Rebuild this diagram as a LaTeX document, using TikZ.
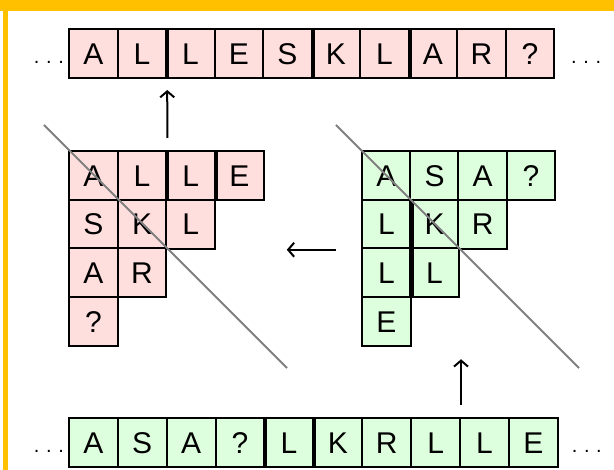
\documentclass[tikz,border=0pt]{standalone}
\usepackage{fontspec}
\setmainfont{Liberation Sans}
\usetikzlibrary{arrows.meta,calc}
\definecolor{pinkc}{HTML}{FFDEDE}
\definecolor{greenc}{HTML}{DEFFDE}
\definecolor{yel}{HTML}{FFC000}
\begin{document}
\begin{tikzpicture}[x=1pt,y=-1pt,
  cell/.style={draw=black, line width=2pt, minimum width=48.7pt, minimum height=49pt,
    inner sep=0pt, text height=21.5pt, text depth=0pt, font=\fontsize{30}{30}\selectfont},
  pcell/.style={cell, fill=pinkc},
  gcell/.style={cell, fill=greenc},
  thick edge/.style={line width=4pt, line cap=butt},
  dots/.style={inner sep=0pt, font=\fontsize{20}{20}\selectfont},
  arr/.style={line width=2pt, -{Straight Barb[length=6pt,width=14pt,line width=2pt]}},
  diag/.style={line width=2pt, draw=gray}]
\useasboundingbox (0,0) rectangle (614,470);
\fill[white] (0,0) rectangle (614,470);
\fill[yel] (0,0) rectangle (614,11);
\fill[yel] (3,0) rectangle (8,470);
% top row
\foreach \ch [count=\i] in {A,L,L,E,S,K,L,A,R,?}
  \node[pcell, anchor=north west] (T\i) at ({68+(\i-1)*48.5},28) {\ch};
% bottom row
\foreach \ch [count=\i] in {A,S,A,?,L,K,R,L,L,E}
  \node[gcell, anchor=north west] (B\i) at ({68+(\i-1)*48.9},417) {\ch};
% left triangle
\foreach \r/\letters in {1/{A,L,L,E},2/{S,K,L},3/{A,R},4/{?}}
  \foreach \ch [count=\c] in \letters
    \node[pcell, anchor=north west] (L\r\c) at ({68+(\c-1)*48.7},{150+(\r-1)*48.75}) {\ch};
% right triangle
\foreach \r/\letters in {1/{A,S,A,?},2/{L,K,R},3/{L,L},4/{E}}
  \foreach \ch [count=\c] in \letters
    \node[gcell, anchor=north west] (R\r\c) at ({361+(\c-1)*48.2},{150+(\r-1)*48.75}) {\ch};
% thicker shared edges
\foreach \n in {T2,T5,T7,B4,B5,L12,L13,R21,R31}
  \draw[thick edge] (\n.north east) -- (\n.south east);
% dots
\node[dots, anchor=base] (dl) at ([xshift=-19pt,yshift=1pt]T1.base west) {.\,\,.\,\,.};
\node[dots, anchor=base] (dr) at ([xshift=31pt,yshift=1pt]T10.base east) {.\,\,.\,\,.};
\node[dots, anchor=base] (dbl) at ([xshift=-19pt,yshift=1pt]B1.base west) {.\,\,.\,\,.};
\node[dots, anchor=base] (dbr) at ([xshift=28pt,yshift=1pt]B10.base east) {.\,\,.\,\,.};
% diagonals
\draw[diag] ($(L11.north west)+(-24,-25)$) -- ($(L11.north west)+(219,218)$);
\draw[diag] ($(R11.north west)+(-25,-25)$) -- ($(R11.north west)+(218,218)$);
% arrows
\draw[arr] ([yshift=12pt]L12.north east) -- ([yshift=-11pt]T2.south east);
\draw[arr] ([xshift=-25pt]R21.south west) -- ($(L14.east |- R21.south west)+(22,0)$);
\draw[arr] ([yshift=12pt]B8.north east) -- ($(B8.north east |- R41.south west)+(0,12)$);
\end{tikzpicture}
\end{document}
